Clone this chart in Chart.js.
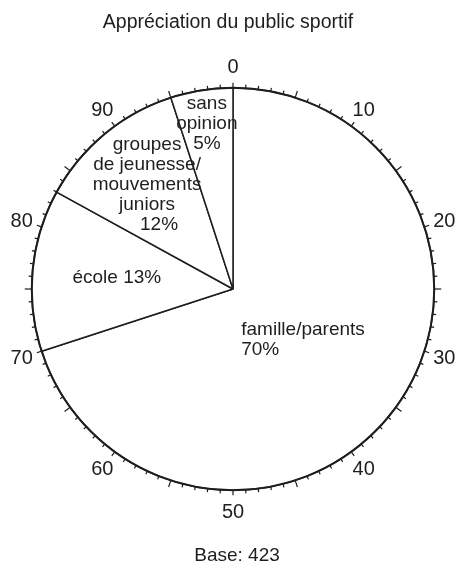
<!DOCTYPE html>
<html>
<head>
<meta charset="utf-8">
<script src="https://cdn.jsdelivr.net/npm/chart.js@4"></script>
<style>
  html, body { margin: 0; padding: 0; background: #fff; }
  #wrap { width: 457px; height: 564px; }
</style>
</head>
<body>
<div id="wrap"><canvas id="pie" width="457" height="564"></canvas></div>
<script>
const title      = 'Appréciation du public sportif'
const baseNote   = 'Base: 423'
const categories = ['famille/parents', 'école', 'groupes de jeunesse/mouvements juniors', 'sans opinion']
const shares     = [70, 13, 12, 5]
const tickLabels = ['0', '10', '20', '30', '40', '50', '60', '70', '80', '90']

// how each slice label is written inside its slice
const sliceText = [
  ['famille/parents', '70%'],
  ['école 13%'],
  ['groupes', 'de jeunesse/', 'mouvements', 'juniors', '12%'],
  ['sans', 'opinion', '5%']
]
const labelRadius = [0.43, 0.58, 0.67, 0.83]
const labelAlign  = ['left', 'center', 'center', 'center']

const INK  = '#1e1e1e'
const FONT = '"Liberation Sans", Arial, Helvetica, sans-serif'

const dialPlugin = {
  id: 'dial',
  afterDatasetsDraw(chart) {
    const ctx = chart.ctx
    const arc = chart.getDatasetMeta(0).data[0]
    const cx = arc.x, cy = arc.y, R = arc.outerRadius
    const total = shares.reduce((s, v) => s + v, 0)

    ctx.save()
    // outer ring
    ctx.strokeStyle = INK
    ctx.lineWidth = 2
    ctx.beginPath()
    ctx.arc(cx, cy, R, 0, Math.PI * 2)
    ctx.stroke()

    // percent ticks
    ctx.lineWidth = 1.2
    for (let i = 0; i < 100; i++) {
      const a = -Math.PI / 2 + (i / 100) * Math.PI * 2
      const len = i % 10 === 0 ? 5 : (i % 5 === 0 ? 7 : 3.5)
      ctx.beginPath()
      ctx.moveTo(cx + Math.cos(a) * R, cy + Math.sin(a) * R)
      ctx.lineTo(cx + Math.cos(a) * (R + len), cy + Math.sin(a) * (R + len))
      ctx.stroke()
    }

    // tick labels
    ctx.fillStyle = INK
    ctx.font = `20px ${FONT}`
    ctx.textAlign = 'center'
    ctx.textBaseline = 'middle'
    tickLabels.forEach((t, i) => {
      const a = -Math.PI / 2 + (i / tickLabels.length) * Math.PI * 2
      const r = R + 21
      ctx.fillText(t, cx + Math.cos(a) * r, cy + Math.sin(a) * r + 1)
    })

    // slice labels
    ctx.font = `19px ${FONT}`
    let acc = 0
    shares.forEach((v, i) => {
      const mid = -Math.PI / 2 + ((acc + v / 2) / total) * Math.PI * 2
      acc += v
      const lines = sliceText[i]
      const lh = 20
      const px = cx + Math.cos(mid) * R * labelRadius[i]
      const py = cy + Math.sin(mid) * R * labelRadius[i]
      const y0 = py - (lines.length - 1) * lh / 2
      if (labelAlign[i] === 'left') {
        const w = Math.max(...lines.map(l => ctx.measureText(l).width))
        ctx.textAlign = 'left'
        lines.forEach((l, k) => ctx.fillText(l, px - w / 2, y0 + k * lh))
      } else {
        ctx.textAlign = 'center'
        lines.forEach((l, k) => {
          const dx = (i === 2 && k === lines.length - 1) ? 12 : 0
          ctx.fillText(l, px + dx, y0 + k * lh)
        })
      }
    })

    // title and base
    ctx.textAlign = 'center'
    ctx.font = `19.5px ${FONT}`
    ctx.fillText(title, 228, 23)
    ctx.font = `19px ${FONT}`
    ctx.fillText(baseNote, 237, 556)
    ctx.restore()
  }
}

new Chart(document.getElementById('pie'), {
  type: 'pie',
  data: {
    labels: categories,
    datasets: [{
      data: shares,
      backgroundColor: '#ffffff',
      borderColor: INK,
      borderWidth: 1.5,
      hoverOffset: 0
    }]
  },
  options: {
    responsive: false,
    animation: false,
    layout: { padding: { left: 31, right: 22, top: 87, bottom: 73 } },
    plugins: {
      legend: { display: false },
      tooltip: { enabled: false },
      title: { display: false }
    }
  },
  plugins: [dialPlugin]
})
</script>
</body>
</html>
